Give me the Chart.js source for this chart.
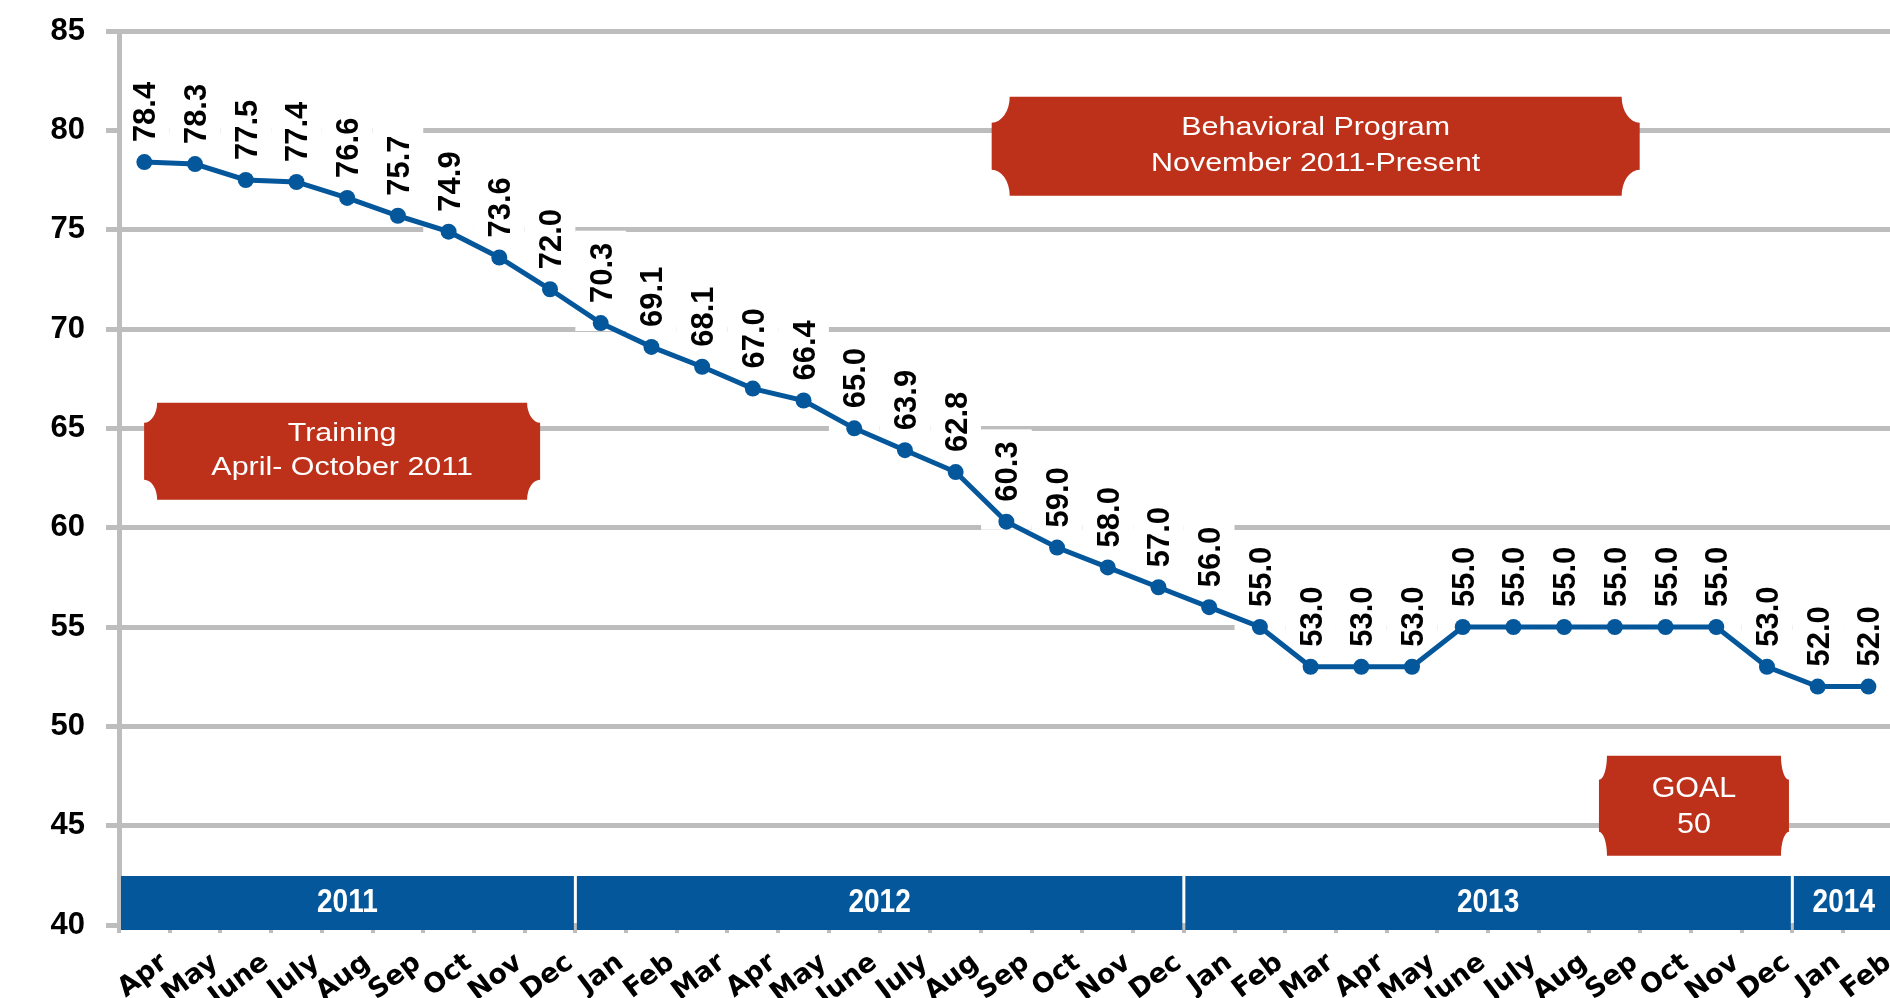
<!DOCTYPE html>
<html><head><meta charset="utf-8">
<script src="https://cdn.jsdelivr.net/npm/chart.js@4.4.1/dist/chart.umd.min.js"></script>
<style>
html,body{margin:0;padding:0;background:#fff;overflow:hidden;width:1890px;height:998px;}
#wrap{position:absolute;left:0;top:0;width:1902px;height:998px;}
</style></head><body>
<div id="wrap"><canvas id="c"></canvas></div>
<script>
// ---- data ----
const months = ['Apr','May','June','July','Aug','Sep','Oct','Nov','Dec',
  'Jan','Feb','Mar','Apr','May','June','July','Aug','Sep','Oct','Nov','Dec',
  'Jan','Feb','Mar','Apr','May','June','July','Aug','Sep','Oct','Nov','Dec',
  'Jan','Feb'];
const values = [78.4,78.3,77.5,77.4,76.6,75.7,74.9,73.6,72.0,
  70.3,69.1,68.1,67.0,66.4,65.0,63.9,62.8,60.3,59.0,58.0,57.0,
  56.0,55.0,53.0,53.0,53.0,55.0,55.0,55.0,55.0,55.0,55.0,53.0,
  52.0,52.0];
const years = ['2011','2012','2013','2014'];
const monthsPerYear = [9,12,12,2];
const yMin = 40, yMax = 85, yStep = 5;
const noteTexts = [
  ['Behavioral Program','November 2011-Present'],
  ['Training','April- October 2011'],
  ['GOAL','50']
];
const noteAnchors = [[23.1, 79.2],[3.9, 63.85],[30.56, 46.0]]; // [category index, value]

// ---- styles ----
const BLUE = '#05579b', RED = '#bd311a', GRID = '#bdbdbd';
const noteStyles = [
  {w:648,h:99,rx:18,ry:26,font:26,sx:1.17,dy:[-11,24.5]},
  {w:396,h:97,rx:13,ry:20,font:26,sx:1.17,dy:[-10,23.5]},
  {w:190,h:100,rx:8,ry:24,font:29,sx:1.05,dy:[-8.5,27.5]}
];

function plaque(ctx,cx,cy,w,h,rx,ry){
  const x0=cx-w/2,x1=cx+w/2,y0=cy-h/2,y1=cy+h/2;
  ctx.beginPath();
  ctx.moveTo(x0+rx,y0);
  ctx.lineTo(x1-rx,y0);
  ctx.ellipse(x1,y0,rx,ry,0,Math.PI,Math.PI/2,true);
  ctx.lineTo(x1,y1-ry);
  ctx.ellipse(x1,y1,rx,ry,0,1.5*Math.PI,Math.PI,true);
  ctx.lineTo(x0+rx,y1);
  ctx.ellipse(x0,y1,rx,ry,0,0,-Math.PI/2,true);
  ctx.lineTo(x0,y0+ry);
  ctx.ellipse(x0,y0,rx,ry,0,Math.PI/2,0,true);
  ctx.closePath();
}

const overlay = {
  id:'overlay',
  beforeDatasetsDraw(chart){
    const {ctx, chartArea:a, scales:{x,y}} = chart;
    const cw = x.getPixelForValue(1)-x.getPixelForValue(0);
    ctx.save();
    // data labels with white backgrounds
    const pts = chart.getDatasetMeta(0).data;
    ctx.font = 'bold 31px "Liberation Sans", Arial, sans-serif';
    pts.forEach((p,i)=>{
      const t = values[i].toFixed(1);
      const L = ctx.measureText(t).width;
      const bl = Math.max(p.x-cw/2, a.left+3);
      const br = p.x+cw/2;
      const top = Math.max(p.y-20-L-12, a.top+4);
      ctx.fillStyle='#fff';
      ctx.fillRect(bl, top, br-bl, (p.y+8)-top);
      ctx.save();
      ctx.translate(p.x, p.y-20);
      ctx.rotate(-Math.PI/2);
      ctx.fillStyle='#000';
      ctx.textAlign='left'; ctx.textBaseline='alphabetic';
      ctx.fillText(t, 0, 11);
      ctx.restore();
    });
    // year band
    let start = 0;
    years.forEach((yr,i)=>{
      const n = monthsPerYear[i];
      let l = x.getPixelForValue(start) - cw/2;
      let r = x.getPixelForValue(start+n-1) + cw/2;
      if (i>0) l += 1.5;
      if (i<years.length-1) r -= 1.5;
      l = Math.max(l, a.left+2);
      ctx.fillStyle = BLUE;
      ctx.fillRect(l, a.bottom-49, r-l, 54);
      ctx.save();
      ctx.translate((l+r)/2, a.bottom-13.5);
      ctx.scale(0.85,1);
      ctx.fillStyle='#fff';
      ctx.font='bold 33px "Liberation Sans", Arial, sans-serif';
      ctx.textAlign='center'; ctx.textBaseline='alphabetic';
      ctx.fillText(yr,0,0);
      ctx.restore();
      start += n;
    });
    // annotation plaques
    noteTexts.forEach((lines,i)=>{
      const s = noteStyles[i];
      const cx = x.getPixelForValue(noteAnchors[i][0]);
      const cy = y.getPixelForValue(noteAnchors[i][1]);
      ctx.fillStyle = RED;
      plaque(ctx,cx,cy,s.w,s.h,s.rx,s.ry);
      ctx.fill();
      ctx.fillStyle='#fff';
      ctx.font = s.font+'px "Liberation Sans", Arial, sans-serif';
      ctx.textAlign='center'; ctx.textBaseline='alphabetic';
      lines.forEach((ln,j)=>{
        ctx.save();
        ctx.translate(cx, cy+s.dy[j]);
        ctx.scale(s.sx,1);
        ctx.fillText(ln,0,0);
        ctx.restore();
      });
    });
    ctx.restore();
  }
};

new Chart(document.getElementById('c'), {
  type:'line',
  data:{
    labels: months,
    datasets:[{
      data: values,
      borderColor: BLUE,
      backgroundColor: BLUE,
      borderWidth: 5,
      pointRadius: 8,
      pointBackgroundColor: BLUE,
      pointBorderWidth: 0,
      tension: 0
    }]
  },
  options:{
    responsive:true,
    maintainAspectRatio:false,
    animation:false,
    layout:{padding:{top:31,left:0,right:0,bottom:0}},
    plugins:{legend:{display:false},tooltip:{enabled:false},title:{display:false}},
    scales:{
      x:{
        type:'category',
        offset:true,
        grid:{offset:true,drawOnChartArea:false,color:GRID,lineWidth:4,tickLength:8},
        border:{display:false},
        ticks:{
          font:{family:'"DejaVu Sans"',weight:'bold',size:27},
          color:'#000',
          minRotation:37,maxRotation:37,
          autoSkip:false,
          padding:14,
          labelOffset:20
        },
        afterFit(s){ s.height = 73; }
      },
      y:{
        min:yMin,max:yMax,
        ticks:{stepSize:yStep,font:{family:'"Liberation Sans"',weight:'bold',size:31},color:'#000',padding:21},
        grid:{color:GRID,lineWidth:5,tickLength:13},
        border:{color:GRID,width:5},
        afterFit(s){ s.width = 119; s.paddingTop = 0; s.paddingBottom = 0; }
      }
    }
  },
  plugins:[overlay]
});
</script>
</body></html>
